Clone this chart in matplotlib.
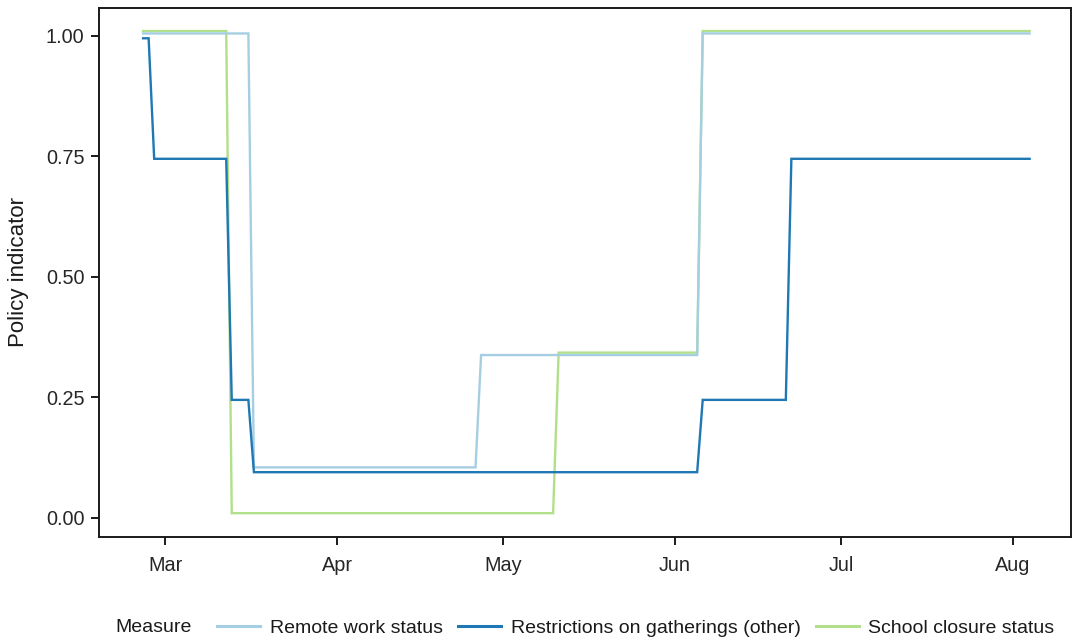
import numpy as np
import pandas as pd
import matplotlib
matplotlib.use("Agg")
import matplotlib.pyplot as plt
import matplotlib.dates as mdates

plt.rcParams['font.family'] = ['Liberation Sans', 'DejaVu Sans']

# breakpoints (each change takes one day)
remote_dates = ['2020-02-26', '2020-03-16', '2020-03-17', '2020-04-26', '2020-04-27',
                '2020-06-05', '2020-06-06', '2020-08-04']
remote_vals = [1.005, 1.005, 0.105, 0.105, 0.338, 0.338, 1.005, 1.005]

gather_dates = ['2020-02-26', '2020-02-27', '2020-02-28', '2020-03-12', '2020-03-13',
                '2020-03-16', '2020-03-17', '2020-06-05', '2020-06-06', '2020-06-21',
                '2020-06-22', '2020-08-04']
gather_vals = [0.995, 0.995, 0.745, 0.745, 0.245, 0.245, 0.095, 0.095, 0.245, 0.245,
               0.745, 0.745]

school_dates = ['2020-02-26', '2020-03-12', '2020-03-13', '2020-05-10', '2020-05-11',
                '2020-06-05', '2020-06-06', '2020-08-04']
school_vals = [1.01, 1.01, 0.01, 0.01, 0.343, 0.343, 1.01, 1.01]

labels = ['Remote work status', 'Restrictions on gatherings (other)', 'School closure status']
colors = ['#a6cee3', '#1f78b4', '#b2df8a']

fig = plt.figure(figsize=(10.76, 6.37), dpi=100)
ax = fig.add_axes([0.092, 0.157, 0.903, 0.8306])

lw = 1.7
l3, = ax.plot(pd.to_datetime(school_dates), school_vals, color=colors[2], lw=lw, zorder=2,
              solid_joinstyle='miter')
l1, = ax.plot(pd.to_datetime(remote_dates), remote_vals, color=colors[0], lw=lw, zorder=3,
              solid_joinstyle='miter')
l2, = ax.plot(pd.to_datetime(gather_dates), gather_vals, color=colors[1], lw=lw, zorder=4,
              solid_joinstyle='miter')

start = pd.Timestamp('2020-03-01')
ax.set_xlim(start - pd.Timedelta(days=11.96), start + pd.Timedelta(days=163.4))
ax.set_ylim(-0.0394, 1.058)

ax.xaxis.set_major_locator(mdates.MonthLocator(bymonth=[3, 4, 5, 6, 7, 8]))
ax.xaxis.set_major_formatter(mdates.DateFormatter('%b'))
ax.set_yticks([0, 0.25, 0.5, 0.75, 1.0])
ax.set_yticklabels(['0.00', '0.25', '0.50', '0.75', '1.00'])

for s in ax.spines.values():
    s.set_linewidth(1.4)
    s.set_color('#1a1a1a')
ax.tick_params(length=5.5, width=1.4, color='#1a1a1a', labelsize=14.3,
               labelcolor='#262626')
ax.tick_params(axis='y', pad=5)
ax.tick_params(axis='x', pad=8)
ax.set_ylabel('Policy indicator', fontsize=16, color='#1a1a1a', labelpad=12)

fig.text(115 / 1076, 1 - 628 / 637, 'Measure', fontsize=14, color='#1a1a1a',
         ha='left', va='center')
fig.legend([l1, l2, l3], labels, loc='center left',
           bbox_to_anchor=(217 / 1076, 1 - 628 / 637), ncol=3, frameon=False,
           fontsize=14, handlelength=2.2, handletextpad=0.5, columnspacing=0.8,
           borderpad=0, borderaxespad=0, labelcolor='#1a1a1a')
for h in fig.legends[0].legend_handles:
    h.set_linewidth(2.2)

fig.savefig('out.png', dpi=100)
